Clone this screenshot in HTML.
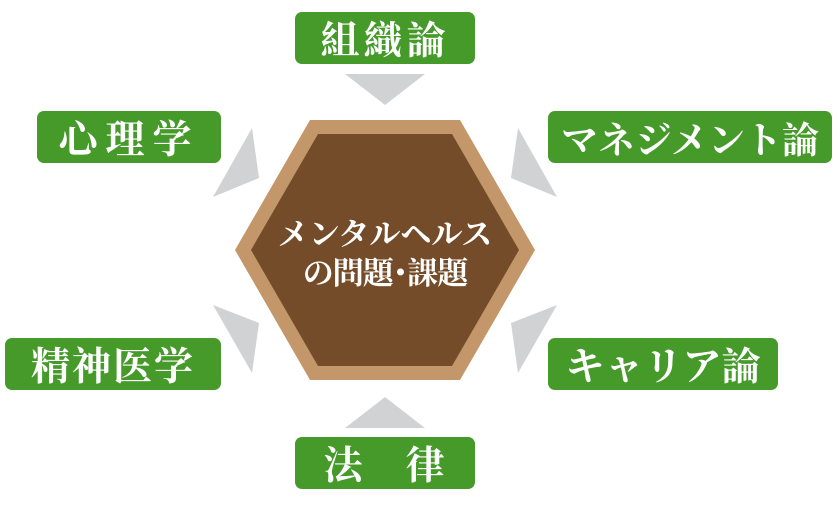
<!DOCTYPE html>
<html><head><meta charset="utf-8"><style>
html,body{margin:0;padding:0;background:#fff;width:835px;height:511px;overflow:hidden}
.b{position:absolute;background:#459a2a;border-radius:7px;color:#fff;font-family:"Liberation Serif","Noto Serif CJK SC",serif;font-weight:bold;font-size:39px;display:flex;align-items:center;justify-content:center;height:52px;letter-spacing:2px}
svg{position:absolute;left:0;top:0}
</style></head><body>
<svg width="835" height="511">
<g fill="#d1d2d4">
<polygon points="345,74 425,74 385,105"/>
<polygon points="345,428 425,428 385,397"/>
<polygon points="252,128 259,178 213,197"/>
<polygon points="213,305 259,323 252,373"/>
<polygon points="518,128 511,178 557,197"/>
<polygon points="557,305 511,323 518,373"/>
</g>
<polygon points="310,120 460,120 535,250 460,380 310,380 235,250" fill="#c4976a"/>
<polygon points="318,134 452,134 519,250 452,366 318,366 251,250" fill="#754c29"/>
<text x="385" y="245" fill="#fff" font-family="Liberation Serif, Noto Serif CJK SC, serif" font-weight="bold" font-size="31" text-anchor="middle">メンタルヘルス</text>
<text x="385" y="284" fill="#fff" font-family="Liberation Serif, Noto Serif CJK SC, serif" font-weight="bold" font-size="31" text-anchor="middle" letter-spacing="-1">の問題･課題</text>
</svg>
<div class="b" style="left:295px;top:12px;width:180px;letter-spacing:4px">組織論</div>
<div class="b" style="left:37px;top:111px;width:184px;letter-spacing:8px">心理学</div>
<div class="b" style="left:548px;top:111px;width:284px;font-size:37px;letter-spacing:0">マネジメント論</div>
<div class="b" style="left:5px;top:338px;width:216px">精神医学</div>
<div class="b" style="left:548px;top:338px;width:230px;letter-spacing:0">キャリア論</div>
<div class="b" style="left:295px;top:437px;width:180px">法　律</div>
</body></html>
